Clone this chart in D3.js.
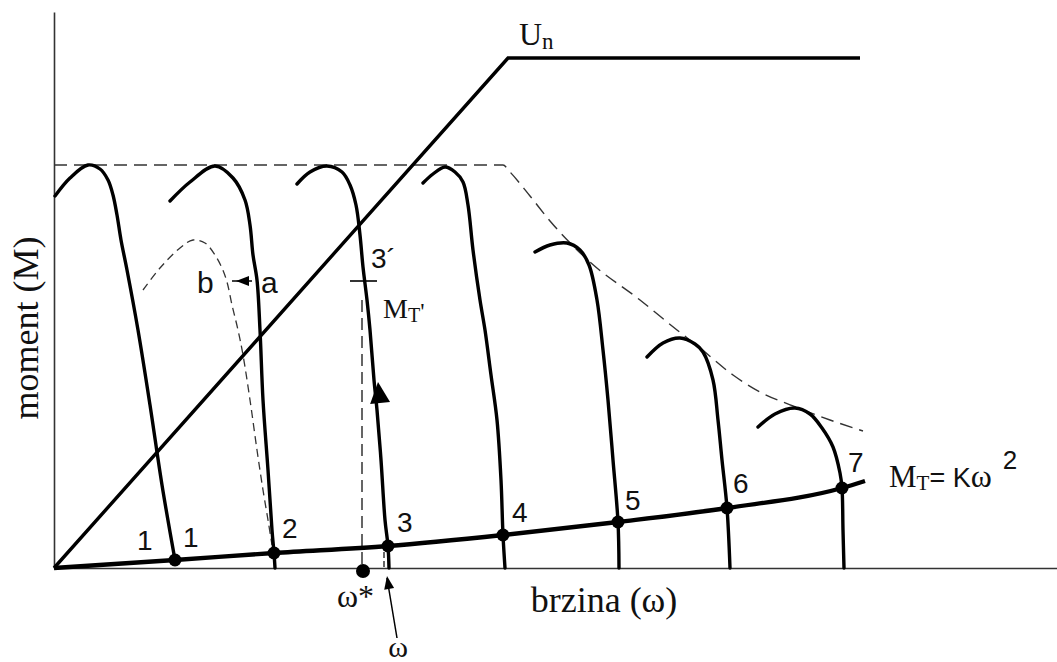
<!DOCTYPE html>
<html>
<head>
<meta charset="utf-8">
<script src="https://cdn.jsdelivr.net/npm/d3@7"></script>
<style>
body { margin: 0; background: #fff; }
.serif { font-family: "Liberation Serif", "DejaVu Serif", serif; fill: #111; }
.sans { font-family: "Liberation Sans", Arial, sans-serif; fill: #111; }
.axis path { stroke: #333; stroke-width: 1.6; }
</style>
</head>
<body>
<svg id="chart" width="1057" height="662"></svg>
<script>
// speed (omega) / moment values, arbitrary units
var speedMax = 1003, momentMax = 556;

var loadCurve = [[0,0],[121,8],[220,15],[334,22],[449,33],[564,46],[673,60],[788,80],[811,87]];
var pointLabels = ["1","2","3","4","5","6","7"];
var voltageLine = [[0,0],[454,510],[806,510]];
var envelope = [[0,403],[449,403],[456,396],[476,372],[496,347],[536,306],[586,268],[623,238],[646,220],[679,193],[706,176],[739,162],[776,148],[809,137]];

var curve1 = [[1,372],[16,390],[34,403],[46,399],[54,388],[59,373],[63,353],[67,328],[73,298],[84,238],[96,163],[108,83],[121,8]];
var curve2 = [[116,367],[136,386],[161,402],[179,390],[191,368],[196,343],[199,313],[203,288],[206,238],[209,168],[214,98],[218,38],[220,15],[221,0]];
var curve3 = [[243,384],[256,396],[273,402],[288,396],[296,383],[302,363],[306,333],[309,301],[313,268],[316,238],[320,188],[323,158],[327,108],[331,48],[334,22],[335,0]];
var curve4 = [[369,385],[379,394],[391,401],[401,396],[409,386],[414,363],[419,318],[426,268],[431,238],[437,193],[443,148],[447,88],[449,33],[451,0]];
var curve5 = [[481,316],[496,323],[513,325],[526,318],[535,303],[543,268],[549,218],[554,168],[559,108],[564,46],[565,0]];
var curve6 = [[593,211],[609,225],[626,230],[641,224],[649,216],[659,188],[664,148],[668,108],[673,60],[676,0]];
var curve7 = [[704,141],[721,154],[741,160],[756,154],[768,140],[779,121],[786,95],[788,80],[789,38],[790,0]];
var motorCurves = [curve1, curve2, curve3, curve4, curve5, curve6, curve7];

var shiftedCurve = [[89,278],[106,300],[126,320],[139,328],[151,325],[161,313],[168,300],[173,286],[178,263],[184,238],[189,213],[196,168],[203,118],[209,78],[214,48],[218,23]];

var omegaStar = 308, omegaStarMoment = 268;
var omegaNew = 330, omegaNewMoment = 16;
var loadMomentPrime = 287, loadPrimeSpan = [296, 323];
var shiftArrow = [198, 178], shiftArrowMoment = 287;

var svg = d3.select("#chart");

var x = d3.scaleLinear().domain([0, speedMax]).range([54, 1057]);
var y = d3.scaleLinear().domain([0, momentMax]).range([568, 12]);

var smooth = d3.line()
        .x(function(d){ return x(d[0]); })
        .y(function(d){ return y(d[1]); })
        .curve(d3.curveCatmullRom.alpha(0.5));
var monotone = d3.line()
        .x(function(d){ return x(d[0]); })
        .y(function(d){ return y(d[1]); })
        .curve(d3.curveMonotoneX);
var straight = d3.line()
        .x(function(d){ return x(d[0]); })
        .y(function(d){ return y(d[1]); });

// axes without ticks
svg.append("g")
        .attr("class", "axis")
        .attr("transform", "translate(0," + y(0) + ")")
        .call(d3.axisBottom(x).tickValues([]).tickSizeOuter(0));
svg.append("g")
        .attr("class", "axis")
        .attr("transform", "translate(" + x(0) + ",0)")
        .call(d3.axisLeft(y).tickValues([]).tickSizeOuter(0));

// dashed helpers
svg.append("path")
        .attr("d", monotone(envelope))
        .attr("fill", "none")
        .attr("stroke", "#333")
        .attr("stroke-width", 1.4)
        .attr("stroke-dasharray", "13,7");

svg.append("path")
        .attr("d", smooth(shiftedCurve))
        .attr("fill", "none")
        .attr("stroke", "#333")
        .attr("stroke-width", 1.3)
        .attr("stroke-dasharray", "8,5");

svg.append("line")
        .attr("x1", x(omegaStar)).attr("x2", x(omegaStar))
        .attr("y1", y(omegaStarMoment)).attr("y2", y(0))
        .attr("stroke", "#333")
        .attr("stroke-width", 1.5)
        .attr("stroke-dasharray", "12,6");

svg.append("line")
        .attr("x1", x(omegaNew)).attr("x2", x(omegaNew))
        .attr("y1", y(omegaNewMoment)).attr("y2", y(0))
        .attr("stroke", "#333")
        .attr("stroke-width", 1.5)
        .attr("stroke-dasharray", "6,3");

// motor characteristics
svg.selectAll(".motor")
        .data(motorCurves)
        .enter()
        .append("path")
        .attr("class", "motor")
        .attr("d", smooth)
        .attr("fill", "none")
        .attr("stroke", "#000")
        .attr("stroke-width", 3.4)
        .attr("stroke-linecap", "round");

// U/f voltage line
svg.append("path")
        .attr("d", straight(voltageLine))
        .attr("fill", "none")
        .attr("stroke", "#000")
        .attr("stroke-width", 3.4);

// load characteristic M_T = K w^2
svg.append("path")
        .attr("d", monotone(loadCurve))
        .attr("fill", "none")
        .attr("stroke", "#000")
        .attr("stroke-width", 4.4);

svg.selectAll(".op")
        .data(loadCurve.slice(1, 8))
        .enter()
        .append("circle")
        .attr("class", "op")
        .attr("cx", function(d){ return x(d[0]); })
        .attr("cy", function(d){ return y(d[1]); })
        .attr("r", 6.5)
        .attr("fill", "#000");

svg.append("circle")
        .attr("cx", x(omegaStar + 1))
        .attr("cy", y(-3))
        .attr("r", 7)
        .attr("fill", "#000");

// M_T' tick
svg.append("line")
        .attr("x1", x(loadPrimeSpan[0])).attr("x2", x(loadPrimeSpan[1]))
        .attr("y1", y(loadMomentPrime)).attr("y2", y(loadMomentPrime))
        .attr("stroke", "#000")
        .attr("stroke-width", 1.6);

function arrowHead(tx, ty, angle, len, half){
    var a = angle * Math.PI / 180;
    var bx = tx - len * Math.cos(a), by = ty - len * Math.sin(a);
    var nx = -Math.sin(a) * half, ny = Math.cos(a) * half;
    svg.append("path")
        .attr("d", "M" + tx + "," + ty + "L" + (bx + nx) + "," + (by + ny) + "L" + (bx - nx) + "," + (by - ny) + "Z")
        .attr("fill", "#000");
}

// a -> b arrow
svg.append("line")
        .attr("x1", x(shiftArrow[0])).attr("x2", x(shiftArrow[1]))
        .attr("y1", y(shiftArrowMoment)).attr("y2", y(shiftArrowMoment))
        .attr("stroke", "#000")
        .attr("stroke-width", 1.5);
arrowHead(x(shiftArrow[1]) + 4, y(shiftArrowMoment), 180, 13, 5);

// arrow along curve 3
var p0 = curve3[11], p1 = curve3[10];
var ang = Math.atan2(y(p1[1]) - y(p0[1]), x(p1[0]) - x(p0[0])) * 180 / Math.PI;
arrowHead(x(p0[0]) + 1, y(p0[1]) - 28, ang, 21, 10);

// arrow pointing at new speed
svg.append("line")
        .attr("x1", x(omegaNew + 13)).attr("y1", y(-70))
        .attr("x2", x(omegaNew + 3)).attr("y2", y(-10))
        .attr("stroke", "#000")
        .attr("stroke-width", 1.5);
var aAng = Math.atan2(y(-10) - y(-70), x(omegaNew + 3) - x(omegaNew + 13)) * 180 / Math.PI;
arrowHead(x(omegaNew + 3), y(-8), aAng, 13, 5);

// operating point numbers
var numOffsets = [[8,-13],[8,-15],[9,-14],[9,-13],[7,-12],[6,-15],[6,-16]];
svg.selectAll(".num")
        .data(loadCurve.slice(1, 8))
        .enter()
        .append("text")
        .attr("class", "num sans")
        .attr("x", function(d, i){ return x(d[0]) + numOffsets[i][0]; })
        .attr("y", function(d, i){ return y(d[1]) + numOffsets[i][1]; })
        .style("font-size", "28px")
        .text(function(d, i){ return pointLabels[i]; });

svg.append("text")
        .attr("class", "sans")
        .attr("x", x(loadCurve[1][0]) - 38)
        .attr("y", y(loadCurve[1][1]) - 10)
        .style("font-size", "28px")
        .text("1");

svg.append("text")
        .attr("class", "sans")
        .attr("x", 371).attr("y", 268)
        .style("font-size", "28px")
        .text("3´");

svg.append("text")
        .attr("class", "sans")
        .attr("x", 197).attr("y", 293)
        .style("font-size", "30px")
        .text("b");
svg.append("text")
        .attr("class", "sans")
        .attr("x", 261).attr("y", 293)
        .style("font-size", "30px")
        .text("a");

// U_n
var un = svg.append("text")
        .attr("class", "serif")
        .attr("x", 519).attr("y", 45);
un.append("tspan").style("font-size", "32px").text("U");
un.append("tspan").attr("dy", 4).style("font-size", "23px").text("n");

// M_T'
var mt = svg.append("text")
        .attr("class", "serif")
        .attr("x", 383).attr("y", 318);
mt.append("tspan").style("font-size", "28px").text("M");
mt.append("tspan").attr("dy", 4).style("font-size", "20px").text("T");
mt.append("tspan").attr("dy", -3).style("font-size", "24px").text("'");

// M_T = K w^2
var law = svg.append("text")
        .attr("x", 889).attr("y", 487);
law.append("tspan").attr("class", "serif").style("font-size", "31px").text("M");
law.append("tspan").attr("class", "serif").attr("dy", 3).style("font-size", "21px").text("T");
law.append("tspan").attr("class", "sans").attr("dy", -3).style("font-size", "27px").text("= K");
law.append("tspan").attr("class", "serif").style("font-size", "32px").text("ω");
law.append("tspan").attr("class", "sans").attr("dy", -18).attr("dx", 11).style("font-size", "26px").text("2");

// omega labels
svg.append("text")
        .attr("class", "serif")
        .attr("x", 337).attr("y", 607)
        .style("font-size", "32px")
        .text("ω*");
svg.append("text")
        .attr("class", "serif")
        .attr("x", 398).attr("y", 657)
        .attr("text-anchor", "middle")
        .style("font-size", "30px")
        .text("ω");

// axis titles
svg.append("text")
        .attr("class", "serif")
        .attr("x", 604).attr("y", 612)
        .attr("text-anchor", "middle")
        .style("font-size", "36px")
        .text("brzina (ω)");
svg.append("text")
        .attr("class", "serif")
        .attr("transform", "translate(38,328) rotate(-90)")
        .attr("text-anchor", "middle")
        .style("font-size", "36px")
        .text("moment (M)");
</script>
</body>
</html>
